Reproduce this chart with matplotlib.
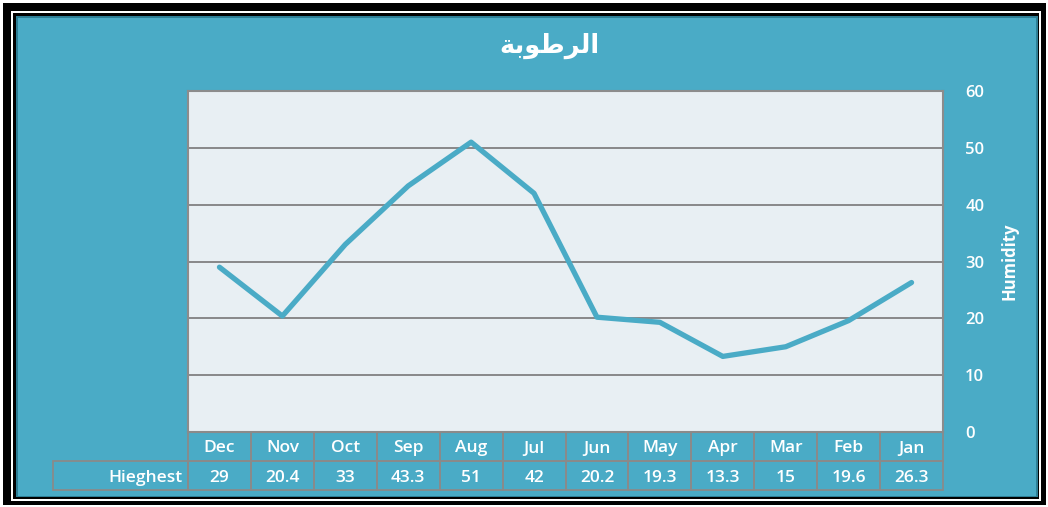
import matplotlib.pyplot as plt
from matplotlib.patches import Rectangle
from matplotlib.transforms import blended_transform_factory

plt.rcParams['font.family'] = ['Open Sans', 'DejaVu Sans']

# Monthly data, laid out right-to-left (Dec first)
months = ['Dec', 'Nov', 'Oct', 'Sep', 'Aug', 'Jul', 'Jun', 'May', 'Apr', 'Mar', 'Feb', 'Jan']
highest = [29, 20.4, 33, 43.3, 51, 42, 20.2, 19.3, 13.3, 15, 19.6, 26.3]
yticks = [0, 10, 20, 30, 40, 50, 60]
row_label = 'Hieghest'
# "الرطوبة" in shaped presentation forms, visual order
title = '\uFE94\uFE91\uFEEE\uFEC3\uFEAE\uFEDF\uFE8D'

W, H = 1048, 507
TEAL = '#4AABC6'
GRID = '#808080'
TXT = dict(color='white', fontsize=12.5, fontweight='semibold')

fig = plt.figure(figsize=(W / 100, H / 100), dpi=100, facecolor='white')


def box(x0, y0, x1, y1, **kw):
    # rectangle given in pixel coords (y from top)
    r = Rectangle((x0 / W, 1 - y1 / H), (x1 - x0) / W, (y1 - y0) / H,
                  transform=fig.transFigure, **kw)
    fig.add_artist(r)
    return r


# frame: black / white / black / teal
box(3, 3, 1046, 505, facecolor='black', edgecolor='none', zorder=0)
box(11, 11, 1041, 501, facecolor='white', edgecolor='none', zorder=0)
box(13, 13, 1039, 499, facecolor='black', edgecolor='none', zorder=0)
box(16, 16, 1038, 497, facecolor='#2E7F96', edgecolor='none', zorder=0)
box(18, 18, 1036, 496, facecolor=TEAL, edgecolor='none', zorder=0)

left, right, top, bottom = 188, 943, 91, 432
ax = fig.add_axes([left / W, 1 - bottom / H, (right - left) / W, (bottom - top) / H])
ax.set_facecolor('#E8EFF3')

x = list(range(len(months)))
ax.plot(x, highest, color=TEAL, lw=3.8, solid_capstyle='round', zorder=3)

ax.set_xlim(-0.5, len(months) - 0.5)
ax.set_ylim(0, 60)
ax.set_yticks(yticks)
ax.set_xticks([])
ax.yaxis.tick_right()
ax.tick_params(axis='y', length=0, pad=16, labelcolor='white', labelsize=12)
for lbl in ax.get_yticklabels():
    lbl.set_fontweight('semibold')
ax.grid(axis='y', color=GRID, lw=1.3)
ax.set_axisbelow(True)
for s in ax.spines.values():
    s.set_color('#8C8C8C')
    s.set_linewidth(1.5)

ax.yaxis.set_label_position('right')
ax.set_ylabel('Humidity', color='white', fontsize=12, fontweight='bold', labelpad=12)

fig.text(549 / W, 1 - 46 / H, title, family=['DejaVu Sans'], fontsize=18.5,
         fontweight='bold', color='white', ha='center', va='center')

# data table under the plot
trans = blended_transform_factory(ax.transData, fig.transFigure)
row1, row2, row3 = 432, 461, 490
for i, (m, v) in enumerate(zip(months, highest)):
    x0 = left + i * (right - left) / len(months)
    x1 = x0 + (right - left) / len(months)
    box(x0, row1, x1, row2, facecolor='none', edgecolor='#8A8A8A', lw=1.3, zorder=2)
    box(x0, row2, x1, row3, facecolor='none', edgecolor='#8A8A8A', lw=1.3, zorder=2)
    fig.text(i, 1 - ((row1 + row2) / 2 + 2) / H, m, transform=trans, ha='center',
             va='center', **TXT)
    fig.text(i, 1 - ((row2 + row3) / 2 + 2) / H, f'{v:g}', transform=trans, ha='center',
             va='center', **TXT)
box(53, row2, left, row3, facecolor='none', edgecolor='#8A8A8A', lw=1.3, zorder=2)
fig.text((left - 5) / W, 1 - ((row2 + row3) / 2 + 2) / H, row_label, ha='right',
         va='center', **TXT)

fig.savefig('out.png', dpi=100, facecolor=fig.get_facecolor())
